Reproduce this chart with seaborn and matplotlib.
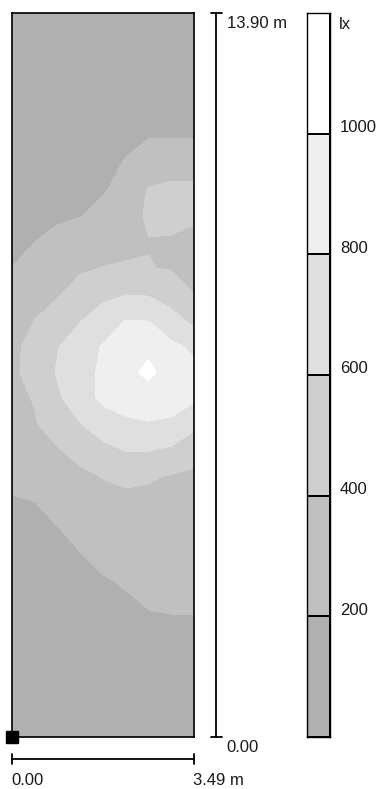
import numpy as np
import matplotlib.pyplot as plt
import seaborn as sns
from matplotlib.colors import ListedColormap

# room size (m)
room_w = 3.49
room_l = 13.90

# calculation grid positions (m)
x_m = [0.0, 0.436, 0.873, 1.309, 1.745, 2.181, 2.618, 3.054, 3.49]
y_m = [0.0, 0.5, 1.0, 1.5, 2.0, 2.5, 3.0, 3.5, 4.0, 4.5, 5.0, 5.5, 6.0, 6.5,
       7.0, 7.5, 8.0, 8.5, 9.0, 9.5, 10.0, 10.5, 11.0, 11.5, 12.0, 12.5,
       13.0, 13.5, 13.9]

# illuminance in lx, one row per y position (bottom -> top)
lux_rows = [
    [116, 118, 121, 124, 128, 132, 136, 138, 138],
    [120, 122, 125, 128, 132, 137, 142, 145, 145],
    [124, 126, 129, 132, 138, 144, 150, 154, 154],
    [128, 130, 134, 138, 145, 152, 163, 167, 167],
    [132, 135, 140, 145, 152, 162, 178, 182, 182],
    [138, 142, 148, 155, 165, 180, 203, 207, 207],
    [145, 152, 160, 170, 190, 212, 248, 244, 240],
    [155, 165, 178, 195, 234, 264, 287, 280, 274],
    [170, 182, 195, 245, 293, 316, 327, 317, 307],
    [190, 198, 250, 307, 352, 350, 350, 353, 341],
    [225, 252, 315, 367, 405, 440, 420, 385, 375],
    [300, 345, 385, 452, 545, 605, 605, 567, 452],
    [330, 385, 481, 590, 700, 754, 787, 768, 648],
    [355, 410, 570, 710, 840, 900, 890, 880, 830],
    [360, 479, 615, 725, 836, 939, 1050, 900, 860],
    [365, 448, 590, 700, 815, 900, 950, 840, 760],
    [307, 402, 475, 590, 692, 802, 795, 675, 546],
    [254, 334, 385, 479, 553, 595, 585, 508, 402],
    [201, 265, 320, 375, 405, 412, 405, 390, 345],
    [185, 200, 240, 290, 330, 370, 395, 385, 360],
    [165, 170, 180, 195, 270, 340, 420, 440, 420],
    [155, 158, 165, 172, 180, 285, 410, 440, 440],
    [150, 152, 158, 165, 178, 205, 300, 325, 325],
    [145, 148, 152, 160, 172, 185, 197, 198, 198],
    [140, 140, 145, 150, 160, 170, 180, 185, 185],
    [135, 135, 140, 145, 152, 160, 168, 172, 172],
    [130, 130, 135, 140, 145, 150, 155, 160, 160],
    [125, 125, 130, 135, 140, 145, 150, 150, 150],
    [120, 120, 125, 130, 135, 140, 145, 145, 145],
]

levels = [0, 200, 400, 600, 800, 1000, 1200]
band_colors = ["#b0b0b0", "#c0c0c0", "#cfcfcf", "#dfdfdf", "#efefef", "#ffffff"]
level_labels = ["200", "400", "600", "800", "1000"]
unit = "lx"

sns.set_style("white")
plt.rcParams["font.family"] = ["Liberation Sans", "DejaVu Sans"]
txt_color = "#1a1a1a"

fig = plt.figure(figsize=(3.84, 7.89), dpi=100)

# --- room plan with isolux fill ---
ax = fig.add_axes([12 / 384, 52 / 789, 182 / 384, 724 / 789])
ax.contourf(x_m, y_m, np.array(lux_rows), levels=levels, colors=band_colors)
ax.set_xlim(0, room_w)
ax.set_ylim(0, room_l)
ax.set_xticks([])
ax.set_yticks([])
for sp in ax.spines.values():
    sp.set_visible(True)
    sp.set_color("black")
    sp.set_linewidth(1.2)

# origin marker
ax.plot([0], [0], marker="s", ms=8, color="black", clip_on=False, zorder=6)

# vertical dimension bar
xb = room_w + 0.43
ax.plot([xb, xb], [0, room_l], color="black", lw=1.3, clip_on=False)
for yy in [0, room_l]:
    ax.plot([xb - 0.1, xb + 0.1], [yy, yy], color="black", lw=1.3, clip_on=False)
ax.text(room_w + 0.63, room_l - 0.21, f"{room_l:.2f} m", fontsize=12,
        color=txt_color, va="center", ha="left", clip_on=False)
ax.text(room_w + 0.63, -0.21, "0.00", fontsize=12, color=txt_color,
        va="center", ha="left", clip_on=False)

# horizontal dimension bar
yb = -0.42
ax.plot([0, room_w], [yb, yb], color="black", lw=1.3, clip_on=False)
for xx in [0, room_w]:
    ax.plot([xx, xx], [yb - 0.1, yb + 0.1], color="black", lw=1.3, clip_on=False)
ax.text(-0.02, -0.83, "0.00", fontsize=12, color=txt_color, va="center",
        ha="left", clip_on=False)
ax.text(room_w - 0.02, -0.83, f"{room_w:.2f} m", fontsize=12, color=txt_color,
        va="center", ha="left", clip_on=False)

# --- legend bar (seaborn heatmap of the bands) ---
cax = fig.add_axes([307 / 384, 52 / 789, 23 / 384, 724 / 789])
mids = [(a + b) / 2 for a, b in zip(levels[:-1], levels[1:])][::-1]
sns.heatmap(np.array(mids).reshape(-1, 1), ax=cax, cmap=ListedColormap(band_colors),
            vmin=levels[0], vmax=levels[-1], cbar=False, linewidths=1.2,
            linecolor="black", xticklabels=False, yticklabels=False)
for sp in cax.spines.values():
    sp.set_visible(True)
    sp.set_color("black")
    sp.set_linewidth(1.0)

n_bands = len(band_colors)
for i, lab in enumerate(level_labels):
    cax.text(1.43, n_bands - 1 - i - 0.05, lab, fontsize=12, color=txt_color,
             va="center", ha="left", clip_on=False)
cax.text(1.39, 0.095, unit, fontsize=12, color=txt_color, va="center",
         ha="left", clip_on=False)

fig.savefig("out.png", dpi=100)
